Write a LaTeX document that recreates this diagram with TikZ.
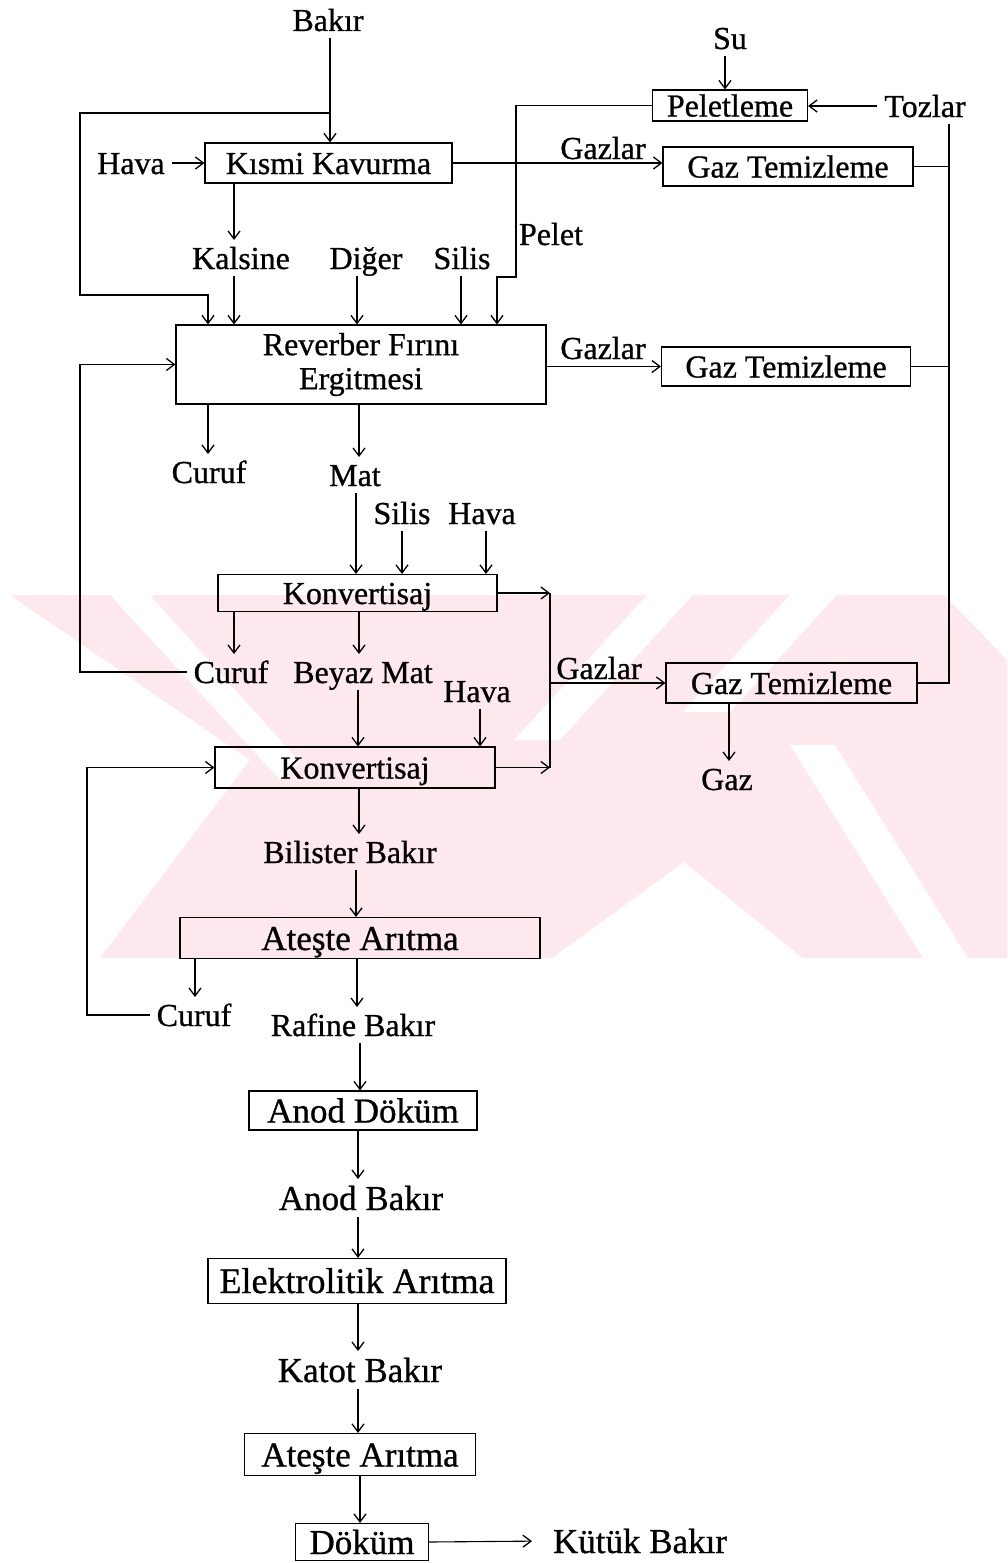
\documentclass[tikz,border=0pt]{standalone}
\usepackage{fontspec}
\setmainfont{Liberation Serif}[FakeBold=0.8]
\usetikzlibrary{arrows.meta}
\definecolor{wm}{RGB}{252,232,237}
\newcommand\fsA{\fontsize{32}{34}\selectfont}
\newcommand\fsB{\fontsize{35}{37}\selectfont}
\newcommand\fsC{\fontsize{36}{38}\selectfont}
\tikzset{
  th/.style={text height=22pt,text depth=0pt},
  thB/.style={text height=24pt,text depth=0pt},
  bx/.style={draw,line width=1.1pt,inner sep=0pt,font=\fsA},
  lb/.style={inner sep=0pt,th,outer xsep=7pt,outer ysep=7pt,font=\fsA},
  lbB/.style={lb,thB,font=\fsB},
  arr/.style={line width=1.1pt,-{Straight Barb[length=8pt,width=12pt,line width=1.3pt]}},
  ln/.style={line width=1.1pt},
}
\begin{document}
\begin{tikzpicture}[x=1pt,y=-1pt]
\useasboundingbox (0,0) rectangle (1007,1563);
% watermark
\begin{scope}
\clip (0,595) rectangle (1007,958);
\fill[wm] (10,595) -- (944,595) -- (1007,660) -- (1007,958) -- (803,958)
  -- (684,862) -- (552,958) -- (100,958) -- (250,760) -- cycle;
\fill[white] (110,595) -- (150,595) -- (300,762) -- (280,780) -- cycle;
\fill[white] (647,595) -- (693,595) -- (560,740) -- (514,740) -- cycle;
\fill[white] (790,595) -- (837,595) -- (730,712) -- (683,712) -- cycle;
\fill[white] (790,745) -- (835,745) -- (968,958) -- (923,958) -- cycle;
\end{scope}
% guides
\foreach \g in {80,87,195,208,234,330,356,357,358,359,360,402,461,480,486,497,550,725,729,949}
  \coordinate (g\g) at (\g,0);
% boxes
\node[bx,th,minimum width=155pt,minimum height=31pt] (pel) at (730,105.5) {Peletleme};
\node[bx,th,minimum width=247pt,minimum height=40pt] (kk) at (328.5,163) {Kısmi Kavurma};
\node[bx,th,minimum width=250pt,minimum height=39pt] (gt1) at (788,166.5) {Gaz Temizleme};
\node[bx,align=center,minimum width=370pt,minimum height=79pt] (rev) at (361,364.5) {Reverber Fırını\\Ergitmesi};
\node[bx,th,minimum width=249pt,minimum height=39pt] (gt2) at (786,366.5) {Gaz Temizleme};
\node[bx,th,minimum width=279pt,minimum height=37pt] (kon1) at (357.5,593) {Konvertisaj};
\node[bx,th,minimum width=251pt,minimum height=40pt] (gt3) at (791.5,683) {Gaz Temizleme};
\node[bx,th,minimum width=280pt,minimum height=41pt] (kon2) at (355,767.5) {Konvertisaj};
\node[bx,thB,font=\fsB,minimum width=360pt,minimum height=41pt] (ate1) at (360,938) {Ateşte Arıtma};
\node[bx,thB,font=\fsB,minimum width=228pt,minimum height=39pt] (anod) at (363,1110.5) {Anod Döküm};
\node[bx,thB,font=\fsC,minimum width=298pt,minimum height=45pt] (elek) at (357,1281) {Elektrolitik Arıtma};
\node[bx,thB,font=\fsB,minimum width=231pt,minimum height=42pt] (ate2) at (360,1454.5) {Ateşte Arıtma};
\node[bx,thB,font=\fsB,minimum width=133pt,minimum height=37pt] (dok) at (362,1542) {Döküm};
% labels
\node[lb] (bakir) at (328,20) {Bakır};
\node[lb] (su) at (730,38) {Su};
\node[lb] (tozlar) at (925,106) {Tozlar};
\node[lb] (hava1) at (131,163) {Hava};
\node[lb] (gazlar1) at (603,148) {Gazlar};
\node[lb] (pelet) at (551,234) {Pelet};
\node[lb] (kalsine) at (241,258) {Kalsine};
\node[lb] (diger) at (366,258) {Diğer};
\node[lb] (silis1) at (462,258) {Silis};
\node[lb] (gazlar2) at (603,348) {Gazlar};
\node[lb] (curuf1) at (209,472) {Curuf};
\node[lb] (mat) at (355,475) {Mat};
\node[lb] (silis2) at (402,513) {Silis};
\node[lb] (hava2) at (482,513) {Hava};
\node[lb] (curuf2) at (231,672) {Curuf};
\node[lb] (beyaz) at (363,672) {Beyaz Mat};
\node[lb] (hava3) at (477,691) {Hava};
\node[lb] (gazlar3) at (599,668) {Gazlar};
\node[lb] (gaz) at (727,779) {Gaz};
\node[lb] (bilister) at (350,852) {Bilister Bakır};
\node[lb] (curuf3) at (194,1015) {Curuf};
\node[lb] (rafine) at (353,1025) {Rafine Bakır};
\node[lbB] (anodbakir) at (361,1198) {Anod Bakır};
\node[lbB] (katot) at (360,1370) {Katot Bakır};
\node[lbB] (kutuk) at (640,1541) {Kütük Bakır};
% bend points
\coordinate (jb) at (330,113);
\coordinate (lb1) at (80,295);
\coordinate (pk) at (516,277);
% connectors
\draw[arr] (bakir.south -| g330) -- (kk.north -| g330);
\draw[arr] (jb) -| (lb1) -| (rev.north -| g208);
\draw[arr] (hava1.east) -- (kk.west |- hava1.east);
\draw[arr] (kk.east) -- (kk.east -| gt1.west);
\draw[arr] (kk.south -| g234) -- (kalsine.north -| g234);
\draw[arr] (kalsine.south -| g234) -- (rev.north -| g234);
\draw[arr] (diger.south -| g357) -- (rev.north -| g357);
\draw[arr] (silis1.south -| g461) -- (rev.north -| g461);
\draw[arr] (pel.west) -| (pk) -| (rev.north -| g497);
\draw[arr] (su.south -| g725) -- (pel.north -| g725);
\draw[arr] (tozlar.west) -- (pel.east |- tozlar.west);
\draw[ln] (tozlar.south -| g949) -- (gt3.east -| g949) -- (gt3.east);
\draw[ln] (gt1.east) -- (gt1.east -| g949);
\draw[ln] (gt2.east) -- (gt2.east -| g949);
\draw[arr] (rev.east |- gt2.west) -- (gt2.west);
\draw[arr] (rev.south -| g208) -- (curuf1.north -| g208);
\draw[arr] (rev.south -| g359) -- (mat.north -| g359);
\draw[arr] (mat.south -| g356) -- (kon1.north -| g356);
\draw[arr] (silis2.south -| g402) -- (kon1.north -| g402);
\draw[arr] (hava2.south -| g486) -- (kon1.north -| g486);
\draw[arr] (kon1.east) -- (kon1.east -| g550);
\draw[arr] (kon2.east) -- (kon2.east -| g550);
\draw[ln] (kon1.east -| g550) -- (kon2.east -| g550);
\draw[arr] (gt3.west -| g550) -- (gt3.west);
\draw[arr] (kon1.south -| g234) -- (curuf2.north -| g234);
\draw[arr] (kon1.south -| g359) -- (beyaz.north -| g359);
\draw[arr] (curuf2.west) -| (rev.west -| g80) -- (rev.west);
\draw[arr] (beyaz.south -| g358) -- (kon2.north -| g358);
\draw[arr] (hava3.south -| g480) -- (kon2.north -| g480);
\draw[arr] (gt3.south -| g729) -- (gaz.north -| g729);
\draw[arr] (kon2.south -| g359) -- (bilister.north -| g359);
\draw[arr] (bilister.south -| g356) -- (ate1.north -| g356);
\draw[arr] (curuf3.west) -| (kon2.west -| g87) -- (kon2.west);
\draw[arr] (ate1.south -| g195) -- (curuf3.north -| g195);
\draw[arr] (ate1.south -| g357) -- (rafine.north -| g357);
\draw[arr] (rafine.south -| g360) -- (anod.north -| g360);
\draw[arr] (anod.south -| g358) -- (anodbakir.north -| g358);
\draw[arr] (anodbakir.south -| g358) -- (elek.north -| g358);
\draw[arr] (elek.south -| g358) -- (katot.north -| g358);
\draw[arr] (katot.south -| g358) -- (ate2.north -| g358);
\draw[arr] (ate2.south -| g360) -- (dok.north -| g360);
\draw[arr,shorten >=14pt] (dok.east) -- (kutuk.west);
\end{tikzpicture}
\end{document}
